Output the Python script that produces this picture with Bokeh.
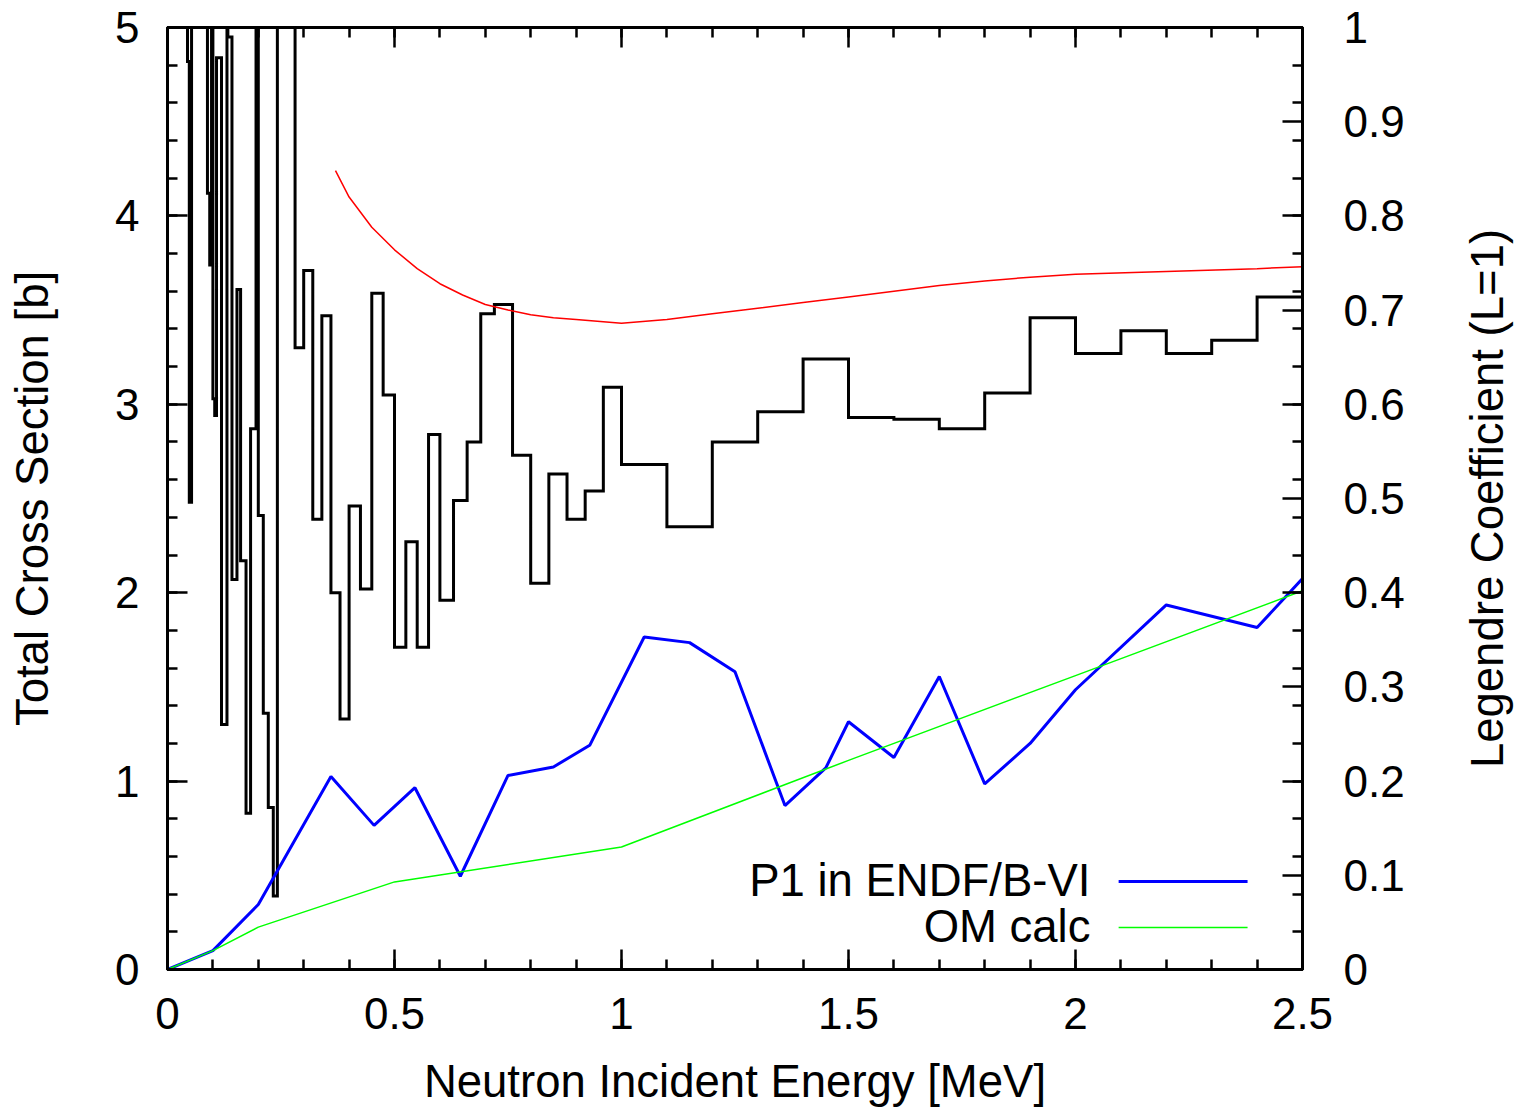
import math
from bokeh.plotting import figure
from bokeh.models import Range1d, LinearAxis, FixedTicker, Label, Arrow
from bokeh.embed import file_html
from bokeh.resources import INLINE

# ---- data ----
# total cross section histogram (step edges in MeV, values in barn; 6 = off-scale)
step_edges = [0.0, 0.044, 0.048, 0.053, 0.088, 0.093, 0.097, 0.100, 0.104, 0.108,
              0.119, 0.131, 0.133, 0.142, 0.153, 0.161, 0.173, 0.183, 0.195, 0.200,
              0.211, 0.222, 0.233, 0.242, 0.281, 0.30, 0.32, 0.34, 0.36, 0.38,
              0.40, 0.425, 0.45, 0.475, 0.50, 0.525, 0.55, 0.575, 0.60, 0.63,
              0.66, 0.69, 0.72, 0.76, 0.80, 0.84, 0.88, 0.92, 0.96, 1.0,
              1.1, 1.2, 1.3, 1.4, 1.5, 1.6, 1.7, 1.8, 1.9, 2.0,
              2.1, 2.2, 2.3, 2.4, 2.5]
step_values = [6.0, 4.82, 2.48, 6.0, 4.12, 3.74, 6.0, 3.03, 2.94, 4.84,
               1.30, 6.0, 4.95, 2.07, 3.61, 2.17, 0.83, 2.87, 6.0, 2.41,
               1.36, 0.86, 0.39, 6.0, 3.30, 3.71, 2.39, 3.47, 2.00, 1.33,
               2.46, 2.02, 3.59, 3.05, 1.71, 2.27, 1.71, 2.84, 1.96, 2.49,
               2.80, 3.48, 3.53, 2.73, 2.05, 2.63, 2.39, 2.54, 3.09, 2.68,
               2.35, 2.80, 2.96, 3.24, 2.93, 2.92, 2.87, 3.06, 3.46, 3.27,
               3.39, 3.27, 3.34, 3.57]

# OM total cross section (red)
om_e = [0.37, 0.40, 0.45, 0.50, 0.55, 0.60, 0.65, 0.70, 0.75, 0.80, 0.85, 0.90,
        1.0, 1.1, 1.2, 1.3, 1.4, 1.5, 1.6, 1.7, 1.8, 1.9, 2.0, 2.2, 2.4, 2.5]
om_sig = [4.24, 4.10, 3.94, 3.82, 3.72, 3.64, 3.58, 3.53, 3.50, 3.475, 3.46, 3.45,
          3.43, 3.45, 3.48, 3.51, 3.54, 3.57, 3.60, 3.63, 3.655, 3.675, 3.69, 3.705, 3.72, 3.73]

# P1 Legendre coefficient, ENDF/B-VI (blue)
p1_e = [0.0, 0.1, 0.2, 0.36, 0.455, 0.545, 0.645, 0.75, 0.85, 0.93, 1.05, 1.15,
        1.25, 1.36, 1.45, 1.5, 1.6, 1.7, 1.8, 1.9, 2.0, 2.2, 2.4, 2.5]
p1_val = [0.0, 0.02, 0.069, 0.205, 0.153, 0.193, 0.099, 0.206, 0.215, 0.238, 0.353, 0.347,
          0.316, 0.174, 0.214, 0.263, 0.225, 0.311, 0.197, 0.240, 0.297, 0.387, 0.363, 0.415]

# P1 Legendre coefficient, OM calc (green)
omp1_e = [0.0, 0.1, 0.2, 0.5, 1.0, 1.5, 2.0, 2.5]
omp1_val = [0.0, 0.02, 0.045, 0.093, 0.13, 0.222, 0.312, 0.402]

# ticks
x_major = [0, 0.5, 1, 1.5, 2, 2.5]
x_labels = ["0", "0.5", "1", "1.5", "2", "2.5"]
x_minor = [i / 10 for i in range(26)]
y_major = [0, 1, 2, 3, 4, 5]
y_minor = [i / 5 for i in range(26)]
y2_major = [0, 0.1, 0.2, 0.3, 0.4, 0.5, 0.6, 0.7, 0.8, 0.9, 1]
y2_labels = ["0", "0.1", "0.2", "0.3", "0.4", "0.5", "0.6", "0.7", "0.8", "0.9", "1"]
y2_minor = [i / 25 for i in range(26)]

legend_labels = ["P1 in ENDF/B-VI", "OM calc"]
right_axis_title = "Legendre Coefficient (L=1)"

# ---- figure ----
FONT = "Liberation Sans"
TICK_FS = "44px"
LAB_FS = "45.5px"

p = figure(width=1517, height=1109, output_backend="svg", toolbar_location=None,
           x_range=Range1d(0, 2.5), y_range=Range1d(0, 5),
           min_border_left=167, min_border_right=215, min_border_top=27, min_border_bottom=140)
p.extra_y_ranges = {"leg": Range1d(0, 1)}
p.xgrid.visible = False
p.ygrid.visible = False
p.outline_line_color = "black"
p.outline_line_width = 3
p.background_fill_color = "white"
p.border_fill_color = "white"


def style(ax, label_size=TICK_FS):
    ax.axis_line_width = 3
    ax.axis_line_color = "black"
    ax.major_tick_in = 20
    ax.major_tick_out = 0
    ax.minor_tick_in = 10
    ax.minor_tick_out = 0
    ax.major_tick_line_width = 2.5
    ax.minor_tick_line_width = 2.5
    ax.major_tick_line_color = "black"
    ax.minor_tick_line_color = "black"
    ax.major_label_text_font = FONT
    ax.major_label_text_font_size = label_size
    ax.major_label_text_color = "black"
    ax.axis_label_text_font = FONT
    ax.axis_label_text_font_size = LAB_FS
    ax.axis_label_text_font_style = "normal"
    ax.axis_label_text_color = "black"


# bottom axis
xa = p.xaxis[0]
style(xa)
xa.ticker = FixedTicker(ticks=x_major, minor_ticks=x_minor)
xa.major_label_overrides = {t: l for t, l in zip(x_major, x_labels)}
xa.major_label_standoff = 28
xa.axis_label = "Neutron Incident Energy [MeV]"
xa.axis_label_standoff = 24

# left axis
ya = p.yaxis[0]
style(ya)
ya.ticker = FixedTicker(ticks=y_major, minor_ticks=y_minor)
ya.major_label_standoff = 28
ya.axis_label = "Total Cross Section [b]"
ya.axis_label_standoff = 54

# right axis
ra = LinearAxis(y_range_name="leg")
style(ra)
ra.ticker = FixedTicker(ticks=y2_major, minor_ticks=y2_minor)
ra.major_label_overrides = {t: l for t, l in zip(y2_major, y2_labels)}
ra.major_label_standoff = 41
p.add_layout(ra, "right")

# top mirror axis (ticks only)
ta = LinearAxis()
style(ta, label_size="1px")
ta.ticker = FixedTicker(ticks=x_major, minor_ticks=x_minor)
ta.major_label_overrides = {t: "" for t in x_major}
ta.major_label_standoff = 0
p.add_layout(ta, "above")

# right axis title, reading bottom-to-top as in the reference (in the right side panel)
p.add_layout(Label(x=2.9075, y=2.5, text=right_axis_title, angle=math.pi / 2,
                   text_align="center", text_baseline="middle",
                   text_font=FONT, text_font_size=LAB_FS, text_color="black"), "right")

# ---- glyphs ----
p.step(step_edges, step_values + [step_values[-1]], mode="after",
       line_color="black", line_width=3, line_join="miter")
p.line(om_e, om_sig, line_color="#ff0000", line_width=1.5)
p.line(p1_e, p1_val, line_color="#0000ff", line_width=3, y_range_name="leg")
p.line(omp1_e, omp1_val, line_color="#00ff00", line_width=1.5, y_range_name="leg")

# ---- gnuplot-style legend (text right-aligned, sample line to its right) ----
leg_text_x = 2.033
leg_line_x0, leg_line_x1 = 2.095, 2.379
leg_rows = [(0.472, 0.467, "#0000ff", 3), (0.226, 0.223, "#00ff00", 1.5)]
for lab, (ty, ly, col, lw) in zip(legend_labels, leg_rows):
    p.add_layout(Label(x=leg_text_x, y=ty, text=lab, text_align="right",
                       text_baseline="middle", text_font=FONT, text_font_size=LAB_FS,
                       text_color="black"))
    p.add_layout(Arrow(end=None, x_start=leg_line_x0, y_start=ly, x_end=leg_line_x1, y_end=ly,
                       line_color=col, line_width=lw))

open("out.html", "w").write(file_html(p, INLINE))
